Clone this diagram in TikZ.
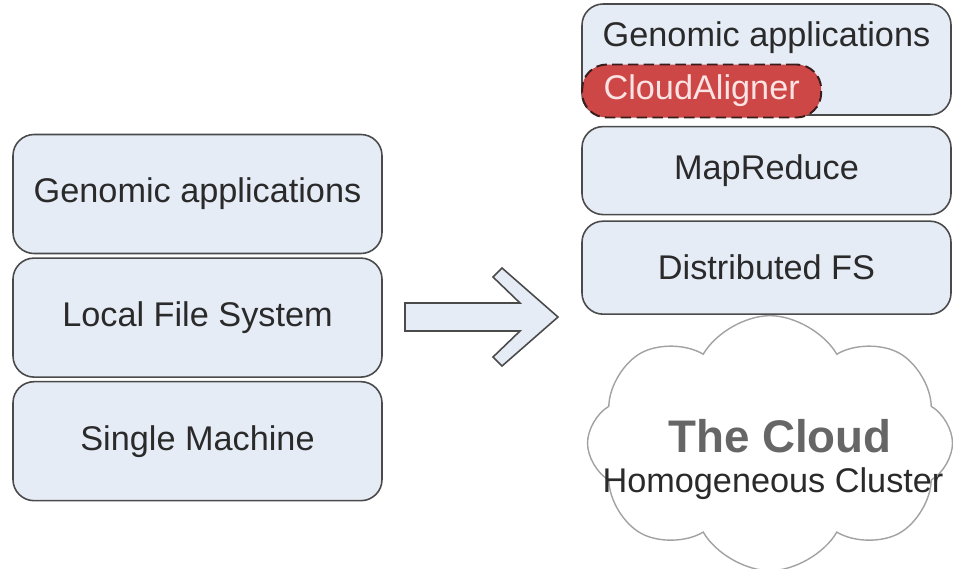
\documentclass[tikz,border=0pt]{standalone}
\usepackage{fontspec}
\setmainfont{Liberation Sans}
\usepackage{tikz}
\usetikzlibrary{positioning,shapes.symbols}
\definecolor{layerF}{HTML}{E6ECF6}
\definecolor{ink}{HTML}{4A4A4A}
\definecolor{txt}{HTML}{2A2A2A}
\definecolor{alignF}{HTML}{CD4747}
\definecolor{alignD}{HTML}{3A1C1C}
\definecolor{alignT}{HTML}{FCE3E3}
\definecolor{cloudD}{HTML}{A2A2A2}
\definecolor{muted}{HTML}{666666}
\tikzset{
  layer/.style={draw=ink, line width=0.9pt, fill=layerF, rounded corners=12pt,
                minimum width=7.38cm, align=center, text=txt,
                font=\fontsize{19.5}{23}\selectfont},
  aligner/.style={draw=alignD, line width=1.1pt, dash pattern=on 6pt off 3pt,
                  fill=alignF, rounded corners=14pt, minimum width=4.78cm,
                  minimum height=1.06cm, text=alignT,
                  font=\fontsize{19.5}{23}\selectfont},
  cloudy/.style={cloud, cloud puffs=8, cloud puff arc=120, draw=cloudD,
                 line width=0.8pt, fill=white, minimum width=7.3cm,
                 minimum height=5.1cm},
  bigarrow/.style={draw=ink, line width=0.9pt, fill=layerF, line join=miter},
}

\begin{document}
\begin{tikzpicture}
  \useasboundingbox (0,0) rectangle (19.06,-11.36);

  % single machine stack
  \node[layer, minimum height=2.38cm] (L1) at (3.95,-3.88) {Genomic applications};
  \node[layer, minimum height=2.38cm, below=0.06cm of L1] (L2) {Local File System};
  \node[layer, minimum height=2.38cm, below=0.06cm of L2] (L3) {Single Machine};

  % cloud stack
  \node[layer, minimum height=2.22cm] (R1) at (15.33,-1.19) {};
  \node[text=txt, font=\fontsize{19.5}{23}\selectfont, below=0.25cm of R1.north]
    (R1t) {Genomic applications};
  \node[aligner, anchor=west] (CA) at ([yshift=-0.63cm]R1.west) {CloudAligner};
  \node[layer, minimum height=1.76cm, below=0.2cm of R1] (R2) {MapReduce};
  \node[layer, minimum height=1.86cm, below=0.1cm of R2] (R3) {Distributed FS};
  \node[cloudy, below=0.0cm of R3, xshift=0.07cm] (Cl) {};
  \node[text=muted, font=\bfseries\fontsize{26}{30}\selectfont]
    (Ct) at ([xshift=0.2cm, yshift=0.14cm]Cl.center) {The Cloud};
  \node[text=txt, font=\fontsize{19.5}{23}\selectfont]
    (Ch) at ([xshift=0.06cm, yshift=-0.8cm]Cl.center) {Homogeneous Cluster};

  % block arrow between the stacks
  \draw[bigarrow] (8.1,-6.06) -- (10.4,-6.06) -- (9.86,-5.54) -- (10.04,-5.36)
    -- (11.16,-6.34) -- (10.04,-7.32) -- (9.86,-7.14) -- (10.4,-6.62)
    -- (8.1,-6.62) -- cycle;
\end{tikzpicture}
\end{document}
